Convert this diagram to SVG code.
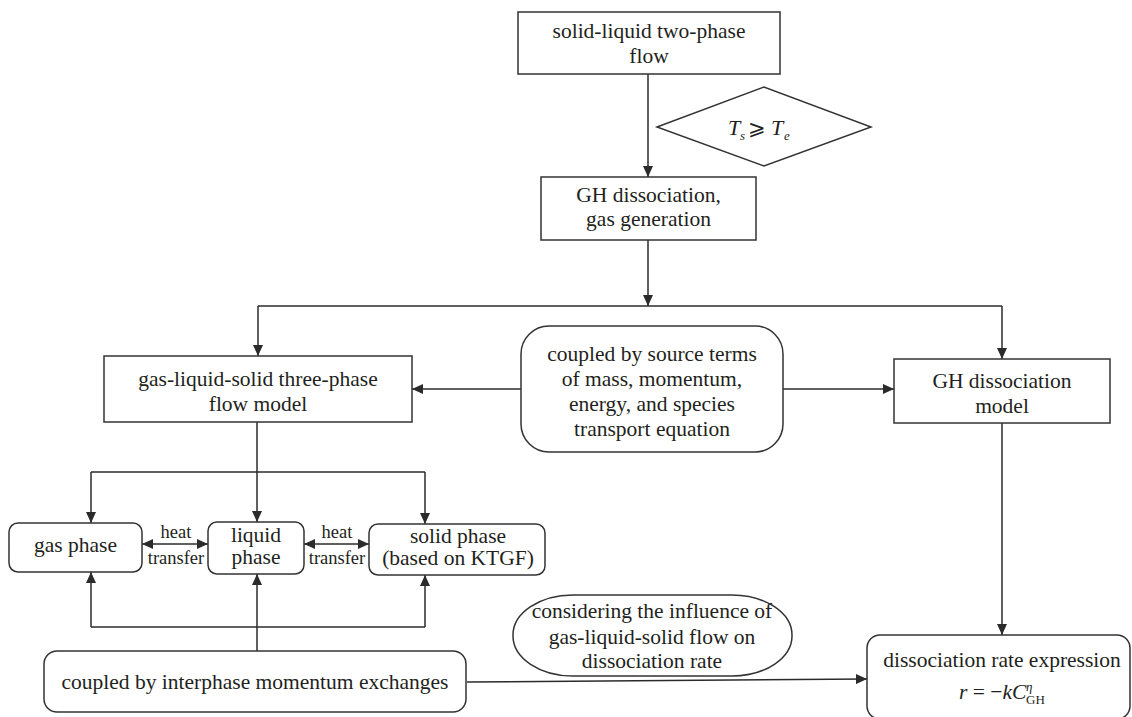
<svg xmlns="http://www.w3.org/2000/svg" width="1132" height="717" viewBox="0 0 1132 717">
<defs>
<style>
.box{fill:#fff;stroke:#333;stroke-width:1.5}
.ln{fill:none;stroke:#2b2b2b;stroke-width:1.5}
.t{font-family:"Liberation Serif","Times New Roman",serif;font-size:21.5px;fill:#231f20;text-anchor:middle}
.s{font-family:"Liberation Serif","Times New Roman",serif;font-size:18.5px;fill:#231f20;text-anchor:middle}
.m{font-family:"Liberation Serif","Times New Roman","DejaVu Serif",serif;fill:#231f20}
</style>
<marker id="ah" markerUnits="userSpaceOnUse" markerWidth="12" markerHeight="10" refX="11" refY="5" orient="auto">
<path d="M0,0 L11,5 L0,10 z" fill="#2b2b2b"/>
</marker>
<marker id="as" markerUnits="userSpaceOnUse" markerWidth="12" markerHeight="10" refX="0" refY="5" orient="auto">
<path d="M11,0 L0,5 L11,10 z" fill="#2b2b2b"/>
</marker>
</defs>
<rect width="1132" height="717" fill="#fff"/>

<g id="connectors">
<path class="ln" d="M648,74 V177" marker-end="url(#ah)"/>
<path class="ln" d="M648,240 V306" marker-end="url(#ah)"/>
<path class="ln" d="M258,306 H1002"/>
<path class="ln" d="M258,306 V356" marker-end="url(#ah)"/>
<path class="ln" d="M1002,306 V359" marker-end="url(#ah)"/>
<path class="ln" d="M521,389 H412" marker-end="url(#ah)"/>
<path class="ln" d="M783,389 H894" marker-end="url(#ah)"/>
<path class="ln" d="M257,422 V522" marker-end="url(#ah)"/>
<path class="ln" d="M91,472 H425"/>
<path class="ln" d="M91,472 V523" marker-end="url(#ah)"/>
<path class="ln" d="M425,472 V524" marker-end="url(#ah)"/>
<path class="ln" d="M142,544 H208" marker-start="url(#as)" marker-end="url(#ah)"/>
<path class="ln" d="M304,544 H369" marker-start="url(#as)" marker-end="url(#ah)"/>
<path class="ln" d="M91,627 H425"/>
<path class="ln" d="M91,627 V572" marker-end="url(#ah)"/>
<path class="ln" d="M425,627 V575" marker-end="url(#ah)"/>
<path class="ln" d="M257,651 V574" marker-end="url(#ah)"/>
<path class="ln" d="M1002,423 V635" marker-end="url(#ah)"/>
<path class="ln" d="M467,682 L867,679" marker-end="url(#ah)"/>
<text class="s" x="176" y="538">heat</text>
<text class="s" x="176" y="564">transfer</text>
<text class="s" x="337" y="538">heat</text>
<text class="s" x="337" y="564">transfer</text>
</g>

<g id="n_two_phase">
<rect class="box" x="518" y="12" width="262" height="62"/>
<text class="t" x="649" y="38">solid-liquid two-phase</text>
<text class="t" x="649" y="63">flow</text>
</g>

<g id="n_condition">
<polygon class="box" points="657,127 764,87 871,127 764,166" style="fill:none"/>
<text class="m" x="728" y="135" font-size="22" font-style="italic">T</text>
<text class="m" x="740" y="140" font-size="13" font-style="italic">s</text>
<text class="m" x="748" y="135" font-size="21">⩾</text>
<text class="m" x="771" y="135" font-size="22" font-style="italic">T</text>
<text class="m" x="784" y="140" font-size="13" font-style="italic">e</text>
</g>

<g id="n_gh_gas">
<rect class="box" x="541" y="177" width="215" height="63"/>
<text class="t" x="648.5" y="202">GH dissociation,</text>
<text class="t" x="648.5" y="226">gas generation</text>
</g>

<g id="n_three_phase">
<rect class="box" x="104" y="356" width="308" height="66"/>
<text class="t" x="258" y="386">gas-liquid-solid three-phase</text>
<text class="t" x="258" y="411">flow model</text>
</g>

<g id="n_source_terms">
<rect class="box" x="521" y="326" width="262" height="126" rx="28"/>
<text class="t" x="652" y="361">coupled by source terms</text>
<text class="t" x="652" y="386">of mass, momentum,</text>
<text class="t" x="652" y="411">energy, and species</text>
<text class="t" x="652" y="436">transport equation</text>
</g>

<g id="n_gh_model">
<rect class="box" x="894" y="359" width="216" height="64"/>
<text class="t" x="1002" y="388">GH dissociation</text>
<text class="t" x="1002" y="413">model</text>
</g>

<g id="n_gas">
<rect class="box" x="9" y="523" width="133" height="49" rx="9"/>
<text class="t" x="75.5" y="552">gas phase</text>
</g>

<g id="n_liquid">
<rect class="box" x="208" y="522" width="96" height="52" rx="9"/>
<text class="t" x="256" y="542">liquid</text>
<text class="t" x="256" y="564">phase</text>
</g>

<g id="n_solid">
<rect class="box" x="369" y="524" width="176" height="51" rx="9"/>
<text class="t" x="458" y="543">solid phase</text>
<text class="t" x="458" y="565">(based on KTGF)</text>
</g>

<g id="n_interphase">
<rect class="box" x="44" y="651" width="422" height="61" rx="13"/>
<text class="t" x="255" y="689">coupled by interphase momentum exchanges</text>
</g>

<g id="n_influence">
<rect class="box" x="513" y="595" width="279" height="81" rx="60" ry="40"/>
<text class="t" x="652" y="618">considering the influence of</text>
<text class="t" x="652" y="644">gas-liquid-solid flow on</text>
<text class="t" x="652" y="668">dissociation rate</text>
</g>

<g id="n_rate">
<rect class="box" x="867" y="635" width="263" height="84" rx="13"/>
<text class="t" x="1002" y="667">dissociation rate expression</text>
<text class="m" x="959" y="699" font-size="21.5"><tspan font-style="italic">r</tspan> = −<tspan font-style="italic">kC</tspan></text>
<text class="m" x="1026" y="691" font-size="13" font-style="italic">η</text>
<text class="m" x="1026" y="704" font-size="13">GH</text>
</g>
</svg>
